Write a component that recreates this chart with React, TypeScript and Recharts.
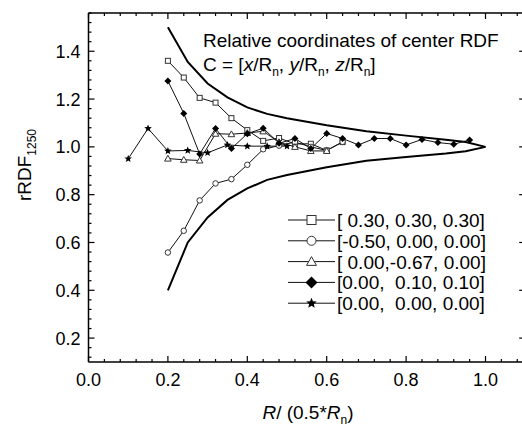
import React from "react";
import { LineChart, Line, XAxis, YAxis, Customized } from "recharts";

const FONT = "'Liberation Sans', Arial, sans-serif";

// R / (0.5*Rn) positions and rRDF values for each centre
const squareR = [0.2, 0.24, 0.28, 0.32, 0.36, 0.4, 0.44, 0.48, 0.52, 0.56, 0.6, 0.64];
const squareRdf = [1.36, 1.29, 1.205, 1.185, 1.12, 1.07, 1.025, 1.037, 1.012, 1.013, 0.985, 1.02];

const circleR = [0.2, 0.24, 0.28, 0.32, 0.36, 0.4, 0.44, 0.48, 0.52, 0.56, 0.6, 0.64];
const circleRdf = [0.558, 0.649, 0.776, 0.847, 0.865, 0.925, 0.99, 1.005, 1.02, 1.0, 0.985, 1.021];

const triangleR = [0.2, 0.24, 0.28, 0.32, 0.36, 0.4, 0.44, 0.48, 0.52, 0.56, 0.6];
const triangleRdf = [0.951, 0.946, 0.943, 1.055, 1.053, 1.058, 1.065, 1.02, 1.0, 0.983, 0.983];

const diamondR = [
  0.2, 0.24, 0.28, 0.32, 0.36, 0.4, 0.44, 0.48, 0.52, 0.56,
  0.6, 0.64, 0.68, 0.72, 0.76, 0.8, 0.84, 0.88, 0.92, 0.96,
];
const diamondRdf = [
  1.276, 1.14, 0.97, 1.077, 0.993, 1.055, 1.078, 1.015, 1.035, 0.993,
  1.056, 1.035, 1.008, 1.035, 1.035, 1.008, 1.031, 1.018, 1.011, 1.029,
];

const starR = [0.1, 0.15, 0.2, 0.25, 0.3, 0.35, 0.4, 0.45, 0.5];
const starRdf = [0.95, 1.077, 0.983, 0.985, 0.975, 1.008, 1.003, 1.003, 1.003];

// envelope curves
const envR = [0.2, 0.25, 0.3, 0.35, 0.4, 0.45, 0.5, 0.6, 0.7, 0.8, 0.9, 0.95, 1.0];
const upperRdf = [1.5, 1.355, 1.265, 1.207, 1.165, 1.138, 1.12, 1.09, 1.065, 1.047, 1.03, 1.02, 1.0];
const lowerRdf = [0.4, 0.6, 0.705, 0.778, 0.826, 0.862, 0.882, 0.915, 0.942, 0.958, 0.972, 0.982, 1.0];

const xMajor = [0, 0.2, 0.4, 0.6, 0.8, 1.0];
const yMajor = [0.2, 0.4, 0.6, 0.8, 1.0, 1.2, 1.4];
const xTicks = Array.from({ length: 28 }, (_, i) => +(i * 0.04).toFixed(2));
const yTicks = Array.from({ length: 37 }, (_, i) => +(0.12 + i * 0.04).toFixed(2));

const legendItems = [
  { shape: "square", label: "[ 0.30, 0.30, 0.30]" },
  { shape: "circle", label: "[-0.50, 0.00, 0.00]" },
  { shape: "triangle", label: "[ 0.00,-0.67, 0.00]" },
  { shape: "diamond", label: "[0.00,  0.10, 0.10]" },
  { shape: "star", label: "[0.00,  0.00, 0.00]" },
];

const pts = (xs: number[], ys: number[]) => xs.map((x, i) => ({ x, y: ys[i] }));

const isMajor = (v: number, majors: number[]) => majors.some((m) => Math.abs(m - v) < 1e-6);

function starPoints(cx: number, cy: number, R: number, r: number) {
  const out: string[] = [];
  for (let i = 0; i < 10; i++) {
    const a = -Math.PI / 2 + (i * Math.PI) / 5;
    const rad = i % 2 === 0 ? R : r;
    out.push(`${cx + rad * Math.cos(a)},${cy + rad * Math.sin(a)}`);
  }
  return out.join(" ");
}

function Marker({ shape, cx, cy, s }: { shape: string; cx: number; cy: number; s: number }) {
  switch (shape) {
    case "square":
      return <rect x={cx - s / 2} y={cy - s / 2} width={s} height={s} fill="#fff" stroke="#333" strokeWidth={1} />;
    case "circle":
      return <circle cx={cx} cy={cy} r={s / 2} fill="#fff" stroke="#333" strokeWidth={1} />;
    case "triangle":
      return (
        <polygon
          points={`${cx},${cy - s * 0.55} ${cx + s * 0.55},${cy + s * 0.42} ${cx - s * 0.55},${cy + s * 0.42}`}
          fill="#fff"
          stroke="#333"
          strokeWidth={1}
        />
      );
    case "diamond":
      return (
        <polygon
          points={`${cx},${cy - s / 2} ${cx + s / 2},${cy} ${cx},${cy + s / 2} ${cx - s / 2},${cy}`}
          fill="#000"
        />
      );
    default:
      return <polygon points={starPoints(cx, cy, s / 2, s / 4.5)} fill="#000" />;
  }
}

const dotFor = (shape: string, s: number) => (p: any) =>
  <Marker key={`${shape}-${p.index}`} shape={shape} cx={p.cx} cy={p.cy} s={s} />;

// ticks point into the plot; majors carry labels on bottom and left
const BottomTick = ({ x, y, payload }: any) => {
  const major = isMajor(payload.value, xMajor);
  return (
    <g>
      <line x1={x} x2={x} y1={y} y2={y - (major ? 6 : 3)} stroke="#000" strokeWidth={1.2} />
      {major && (
        <text x={x} y={y + 24} textAnchor="middle" fontSize={18} fontFamily={FONT} fill="#000">
          {payload.value.toFixed(1)}
        </text>
      )}
    </g>
  );
};

const TopTick = ({ x, y, payload }: any) => {
  const major = isMajor(payload.value, xMajor);
  return <line x1={x} x2={x} y1={y} y2={y + (major ? 6 : 3)} stroke="#000" strokeWidth={1.2} />;
};

const LeftTick = ({ x, y, payload }: any) => {
  const major = isMajor(payload.value, yMajor);
  return (
    <g>
      <line x1={x} x2={x + (major ? 6 : 3)} y1={y} y2={y} stroke="#000" strokeWidth={1.2} />
      {major && (
        <text x={x - 8} y={y + 6.5} textAnchor="end" fontSize={18} fontFamily={FONT} fill="#000">
          {payload.value.toFixed(1)}
        </text>
      )}
    </g>
  );
};

const RightTick = ({ x, y, payload }: any) => {
  const major = isMajor(payload.value, yMajor);
  return <line x1={x} x2={x - (major ? 6 : 3)} y1={y} y2={y} stroke="#000" strokeWidth={1.2} />;
};

const Annotations = () => (
  <g fontFamily={FONT} fill="#000">
    <text x={203} y={47} fontSize={19}>Relative coordinates of center RDF</text>
    <text x={203} y={71} fontSize={19} style={{ whiteSpace: "pre" }}>
      C = [<tspan fontStyle="italic">x</tspan>/R
      <tspan dy={5} fontSize={12}>n</tspan>
      <tspan dy={-5}>, </tspan>
      <tspan fontStyle="italic">y</tspan>/R
      <tspan dy={5} fontSize={12}>n</tspan>
      <tspan dy={-5}>, </tspan>
      <tspan fontStyle="italic">z</tspan>/R
      <tspan dy={5} fontSize={12}>n</tspan>
      <tspan dy={-5}>]</tspan>
    </text>

    {/* axis titles */}
    <text transform="rotate(-90)" x={-165} y={31} textAnchor="middle" fontSize={19}>
      rRDF<tspan dy={5} fontSize={12}>1250</tspan>
    </text>
    <text x={308} y={419} textAnchor="middle" fontSize={19} style={{ whiteSpace: "pre" }}>
      <tspan fontStyle="italic">R</tspan>/ (0.5*<tspan fontStyle="italic">R</tspan>
      <tspan dy={5} fontSize={12}>n</tspan>
      <tspan dy={-5}>)</tspan>
    </text>

    {/* legend */}
    {legendItems.map((item, i) => {
      const cy = 220 + i * 20.8;
      return (
        <g key={item.label}>
          <line x1={288} x2={335} y1={cy} y2={cy} stroke="#111" strokeWidth={1} />
          <Marker shape={item.shape} cx={311.5} cy={cy} s={item.shape === "diamond" ? 12 : item.shape === "star" ? 11 : 9} />
          <text x={337} y={cy + 7} fontSize={19} style={{ whiteSpace: "pre" }}>
            {item.label}
          </text>
        </g>
      );
    })}
  </g>
);

export default function App() {
  const axisLine = { stroke: "#000", strokeWidth: 1.5 };
  return (
    <div
      style={{
        position: "absolute",
        left: 0,
        top: 0,
        width: 522,
        height: 426,
        overflow: "hidden",
        background: "#fff",
      }}
    >
      <LineChart width={530} height={426} margin={{ top: 12, right: 3.8, bottom: 34, left: 48.5 }}>
        <XAxis
          xAxisId="b"
          type="number"
          dataKey="x"
          domain={[0, 1.1]}
          allowDataOverflow
          ticks={xTicks}
          interval={0}
          height={30}
          tickLine={false}
          tickSize={0}
          tickMargin={0}
          tick={BottomTick}
          axisLine={axisLine}
        />
        <XAxis
          xAxisId="t"
          orientation="top"
          type="number"
          dataKey="x"
          domain={[0, 1.1]}
          allowDataOverflow
          ticks={xTicks}
          interval={0}
          height={1}
          tickLine={false}
          tickSize={0}
          tickMargin={0}
          tick={TopTick}
          axisLine={axisLine}
        />
        <YAxis
          yAxisId="l"
          type="number"
          domain={[0.1, 1.56]}
          allowDataOverflow
          ticks={yTicks}
          interval={0}
          width={40}
          tickLine={false}
          tickSize={0}
          tickMargin={0}
          tick={LeftTick}
          axisLine={axisLine}
        />
        <YAxis
          yAxisId="r"
          orientation="right"
          type="number"
          domain={[0.1, 1.56]}
          allowDataOverflow
          ticks={yTicks}
          interval={0}
          width={1}
          tickLine={false}
          tickSize={0}
          tickMargin={0}
          tick={RightTick}
          axisLine={axisLine}
        />

        <Line data={pts(envR, upperRdf)} dataKey="y" xAxisId="b" yAxisId="l" type="linear"
          stroke="#000" strokeWidth={2} dot={false} isAnimationActive={false} />
        <Line data={pts(envR, lowerRdf)} dataKey="y" xAxisId="b" yAxisId="l" type="linear"
          stroke="#000" strokeWidth={2} dot={false} isAnimationActive={false} />

        <Line data={pts(squareR, squareRdf)} dataKey="y" xAxisId="b" yAxisId="l" type="linear"
          stroke="#111" strokeWidth={1} dot={dotFor("square", 5)} isAnimationActive={false} />
        <Line data={pts(circleR, circleRdf)} dataKey="y" xAxisId="b" yAxisId="l" type="linear"
          stroke="#111" strokeWidth={1} dot={dotFor("circle", 5.5)} isAnimationActive={false} />
        <Line data={pts(triangleR, triangleRdf)} dataKey="y" xAxisId="b" yAxisId="l" type="linear"
          stroke="#111" strokeWidth={1} dot={dotFor("triangle", 6)} isAnimationActive={false} />
        <Line data={pts(diamondR, diamondRdf)} dataKey="y" xAxisId="b" yAxisId="l" type="linear"
          stroke="#111" strokeWidth={1} dot={dotFor("diamond", 7)} isAnimationActive={false} />
        <Line data={pts(starR, starRdf)} dataKey="y" xAxisId="b" yAxisId="l" type="linear"
          stroke="#111" strokeWidth={1} dot={dotFor("star", 8)} isAnimationActive={false} />

        <Customized component={Annotations} />
      </LineChart>
    </div>
  );
}
